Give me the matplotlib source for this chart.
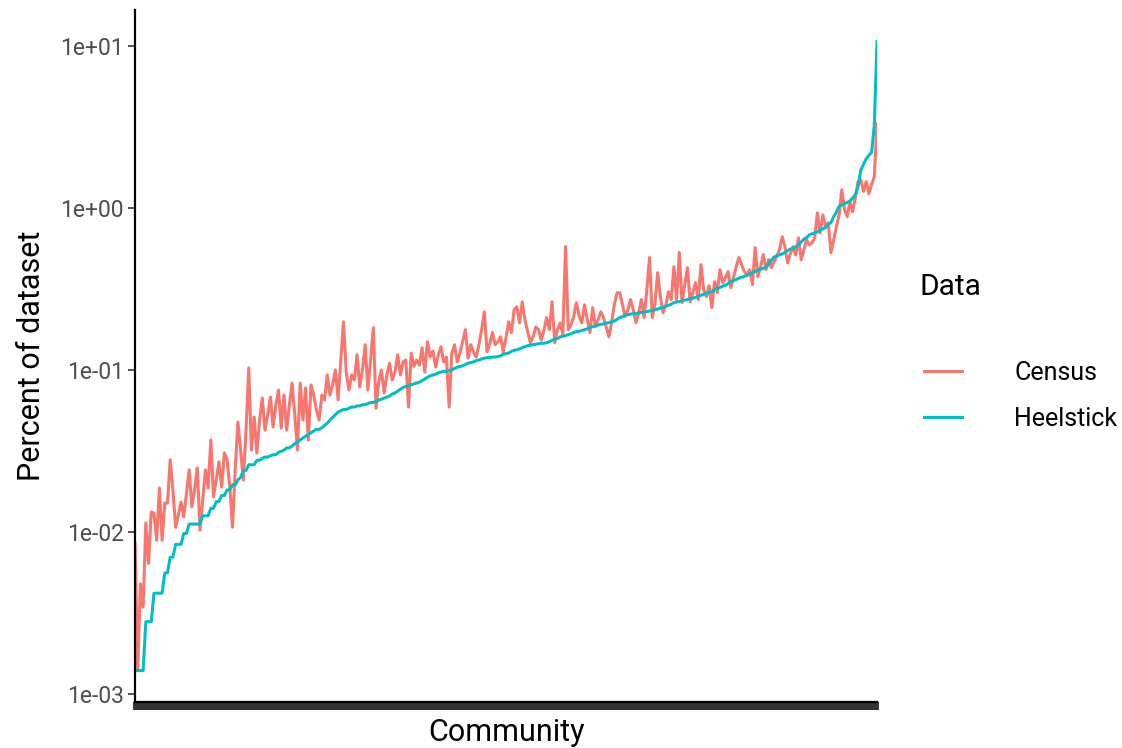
import matplotlib
matplotlib.use("Agg")
import matplotlib.pyplot as plt
from matplotlib.lines import Line2D
import numpy as np

plt.rcParams['font.family'] = ['Roboto', 'DejaVu Sans']

census = [
    0.0085, 0.00141, 0.0048, 0.00344, 0.0114, 0.0064, 0.0133, 0.0131, 0.0089, 0.0187,
    0.0089, 0.0151, 0.0151, 0.0279, 0.0182, 0.0107, 0.0127, 0.0153, 0.0124, 0.0174,
    0.0242, 0.0143, 0.0182, 0.0249, 0.0103, 0.0158, 0.0242, 0.0187, 0.0370, 0.0165,
    0.0210, 0.0271, 0.0190, 0.0308, 0.0279, 0.0190, 0.0107, 0.0242, 0.0477, 0.0320,
    0.0209, 0.0425, 0.103, 0.0320, 0.0512, 0.0307, 0.0491, 0.0671, 0.0425, 0.0527,
    0.0681, 0.0444, 0.0607, 0.0752, 0.0438, 0.0700, 0.0425, 0.0607, 0.0831, 0.0527,
    0.0320, 0.0831, 0.0491, 0.0774, 0.0369, 0.0808, 0.0700, 0.0566, 0.0491, 0.0700,
    0.0652, 0.0931, 0.0700, 0.0808, 0.100, 0.0652, 0.115, 0.198, 0.097, 0.0752,
    0.0931, 0.0867, 0.124, 0.0785, 0.100, 0.143, 0.0752, 0.115, 0.182, 0.058,
    0.0843, 0.100, 0.072, 0.0931, 0.110, 0.0867, 0.097, 0.124, 0.0931, 0.112,
    0.115, 0.059, 0.127, 0.105, 0.115, 0.107, 0.137, 0.097, 0.149, 0.120,
    0.131, 0.104, 0.124, 0.139, 0.112, 0.120, 0.059, 0.127, 0.143, 0.112,
    0.127, 0.150, 0.177, 0.118, 0.143, 0.129, 0.120, 0.143, 0.177, 0.228,
    0.129, 0.145, 0.170, 0.143, 0.149, 0.160, 0.129, 0.158, 0.198, 0.170,
    0.235, 0.245, 0.195, 0.263, 0.204, 0.172, 0.147, 0.160, 0.184, 0.177,
    0.153, 0.175, 0.210, 0.177, 0.263, 0.147, 0.177, 0.195, 0.165, 0.577,
    0.177, 0.190, 0.213, 0.260, 0.215, 0.195, 0.252, 0.204, 0.170, 0.242,
    0.185, 0.204, 0.228, 0.210, 0.184, 0.160, 0.195, 0.252, 0.299, 0.299,
    0.252, 0.213, 0.235, 0.271, 0.235, 0.195, 0.225, 0.271, 0.210, 0.312,
    0.493, 0.210, 0.255, 0.398, 0.283, 0.225, 0.250, 0.303, 0.271, 0.433,
    0.271, 0.530, 0.260, 0.335, 0.427, 0.263, 0.300, 0.345, 0.271, 0.446,
    0.312, 0.283, 0.330, 0.242, 0.350, 0.300, 0.415, 0.345, 0.370, 0.404,
    0.321, 0.370, 0.433, 0.493, 0.446, 0.404, 0.387, 0.415, 0.335, 0.568,
    0.376, 0.430, 0.514, 0.415, 0.479, 0.427, 0.464, 0.503, 0.552, 0.662,
    0.574, 0.457, 0.520, 0.574, 0.512, 0.652, 0.477, 0.550, 0.634, 0.590,
    0.607, 0.652, 0.931, 0.700, 0.905, 0.763, 0.808, 0.527, 0.634, 0.763,
    0.905, 1.29, 0.972, 0.880, 1.09, 0.945, 1.15, 1.45, 1.49, 1.26,
    1.45, 1.22, 1.39, 1.55, 3.30,
]

heelstick = [
    0.0014, 0.0014, 0.0014, 0.0014, 0.0028, 0.0028, 0.0028, 0.0042, 0.0042, 0.0042,
    0.0042, 0.0056, 0.0056, 0.0070, 0.0070, 0.0084, 0.0084, 0.0084, 0.0098, 0.0098,
    0.0112, 0.0112, 0.0112, 0.0112, 0.0112, 0.0126, 0.0126, 0.0126, 0.0140, 0.0140,
    0.0154, 0.0154, 0.0168, 0.0168, 0.0182, 0.0182, 0.0196, 0.0196, 0.0210, 0.0217,
    0.0240, 0.0240, 0.0260, 0.0260, 0.0260, 0.0277, 0.0277, 0.0285, 0.0290, 0.0290,
    0.0295, 0.0300, 0.0300, 0.0310, 0.0315, 0.0320, 0.0330, 0.0330, 0.0340, 0.0350,
    0.0360, 0.0370, 0.0380, 0.0390, 0.0400, 0.0410, 0.0420, 0.0430, 0.0430, 0.0440,
    0.0455, 0.0470, 0.0490, 0.0510, 0.0530, 0.0550, 0.0560, 0.0570, 0.0570, 0.0580,
    0.0590, 0.0590, 0.0600, 0.0600, 0.0610, 0.0610, 0.0620, 0.0630, 0.0630, 0.0640,
    0.0650, 0.0660, 0.0670, 0.0680, 0.0690, 0.0710, 0.0720, 0.0740, 0.0760, 0.0780,
    0.0790, 0.0800, 0.0810, 0.0820, 0.0830, 0.0840, 0.0860, 0.0880, 0.0900, 0.0920,
    0.0930, 0.0940, 0.0960, 0.0970, 0.0980, 0.0980, 0.0990, 0.100, 0.102, 0.104,
    0.105, 0.106, 0.108, 0.110, 0.111, 0.112, 0.114, 0.115, 0.117, 0.118,
    0.119, 0.119, 0.120, 0.120, 0.121, 0.122, 0.125, 0.126, 0.127, 0.130,
    0.132, 0.133, 0.135, 0.137, 0.139, 0.141, 0.142, 0.143, 0.144, 0.145,
    0.146, 0.146, 0.147, 0.149, 0.152, 0.155, 0.156, 0.160, 0.161, 0.163,
    0.165, 0.167, 0.170, 0.172, 0.173, 0.175, 0.177, 0.179, 0.182, 0.185,
    0.187, 0.189, 0.191, 0.192, 0.194, 0.196, 0.198, 0.200, 0.205, 0.210,
    0.213, 0.218, 0.219, 0.221, 0.222, 0.223, 0.224, 0.226, 0.227, 0.229,
    0.231, 0.233, 0.235, 0.237, 0.241, 0.244, 0.247, 0.250, 0.254, 0.260,
    0.262, 0.264, 0.267, 0.269, 0.272, 0.275, 0.277, 0.280, 0.284, 0.288,
    0.293, 0.297, 0.301, 0.305, 0.313, 0.318, 0.322, 0.328, 0.333, 0.340,
    0.350, 0.355, 0.361, 0.368, 0.372, 0.378, 0.382, 0.390, 0.398, 0.405,
    0.413, 0.418, 0.423, 0.430, 0.450, 0.475, 0.497, 0.505, 0.512, 0.520,
    0.530, 0.545, 0.556, 0.565, 0.574, 0.590, 0.615, 0.640, 0.655, 0.680,
    0.690, 0.700, 0.710, 0.730, 0.740, 0.755, 0.790, 0.810, 0.880, 0.940,
    1.02, 1.04, 1.06, 1.08, 1.10, 1.15, 1.20, 1.35, 1.70, 1.85,
    2.00, 2.10, 2.20, 3.20, 10.6,
]

series_names = ["Census", "Heelstick"]
series_colors = ["#F8766D", "#00BFC4"]
y_ticks = [1e-3, 1e-2, 1e-1, 1e0, 1e1]
y_tick_labels = ["1e-03", "1e-02", "1e-01", "1e+00", "1e+01"]

n = len(heelstick)
communities = np.arange(1, n + 1)

fig = plt.figure(figsize=(11.22, 7.48), dpi=100)
ax = fig.add_axes([135 / 1122, 1 - 702 / 748, (877 - 135) / 1122, (702 - 10) / 748])

ax.plot(communities, census, color=series_colors[0], lw=2.2, solid_joinstyle='round')
ax.plot(communities, heelstick, color=series_colors[1], lw=2.2, solid_joinstyle='round')

ax.set_yscale('log')
lo = np.log10(min(min(census), min(heelstick)))
hi = np.log10(max(max(census), max(heelstick)))
pad = 0.05 * (hi - lo)
ax.set_ylim(10 ** (lo - pad), 10 ** (hi + pad))
ax.set_xlim(1, n)

ax.set_yticks(y_ticks)
ax.set_yticklabels(y_tick_labels)
ax.yaxis.set_minor_locator(matplotlib.ticker.NullLocator())
ax.set_xticks(communities)
ax.set_xticklabels([])

for s in ['top', 'right']:
    ax.spines[s].set_visible(False)
for s in ['left', 'bottom']:
    ax.spines[s].set_linewidth(1.6)
    ax.spines[s].set_color('black')

ax.tick_params(axis='y', length=5, width=1.2, color='#333333', labelsize=16.5,
               labelcolor='#4D4D4D', pad=3)
ax.tick_params(axis='x', length=6, width=2.8, color='#333333')

ax.set_ylabel("Percent of dataset", fontsize=22, color='black', labelpad=10)
ax.set_xlabel("Community", fontsize=22, color='black', labelpad=2)

fig.text(920 / 1122, 1 - 287 / 748, "Data", fontsize=21.5, va='center', ha='left')
handles = [Line2D([0], [0], color=c, lw=2.2) for c in series_colors]
leg = fig.legend(handles, series_names, loc='upper left',
                 bbox_to_anchor=(924 / 1122, 1 - 361 / 748),
                 frameon=False, fontsize=18, handlelength=1.5,
                 handletextpad=2.1, labelspacing=0.88, borderaxespad=0,
                 borderpad=0)

fig.savefig("out.png", dpi=100)
